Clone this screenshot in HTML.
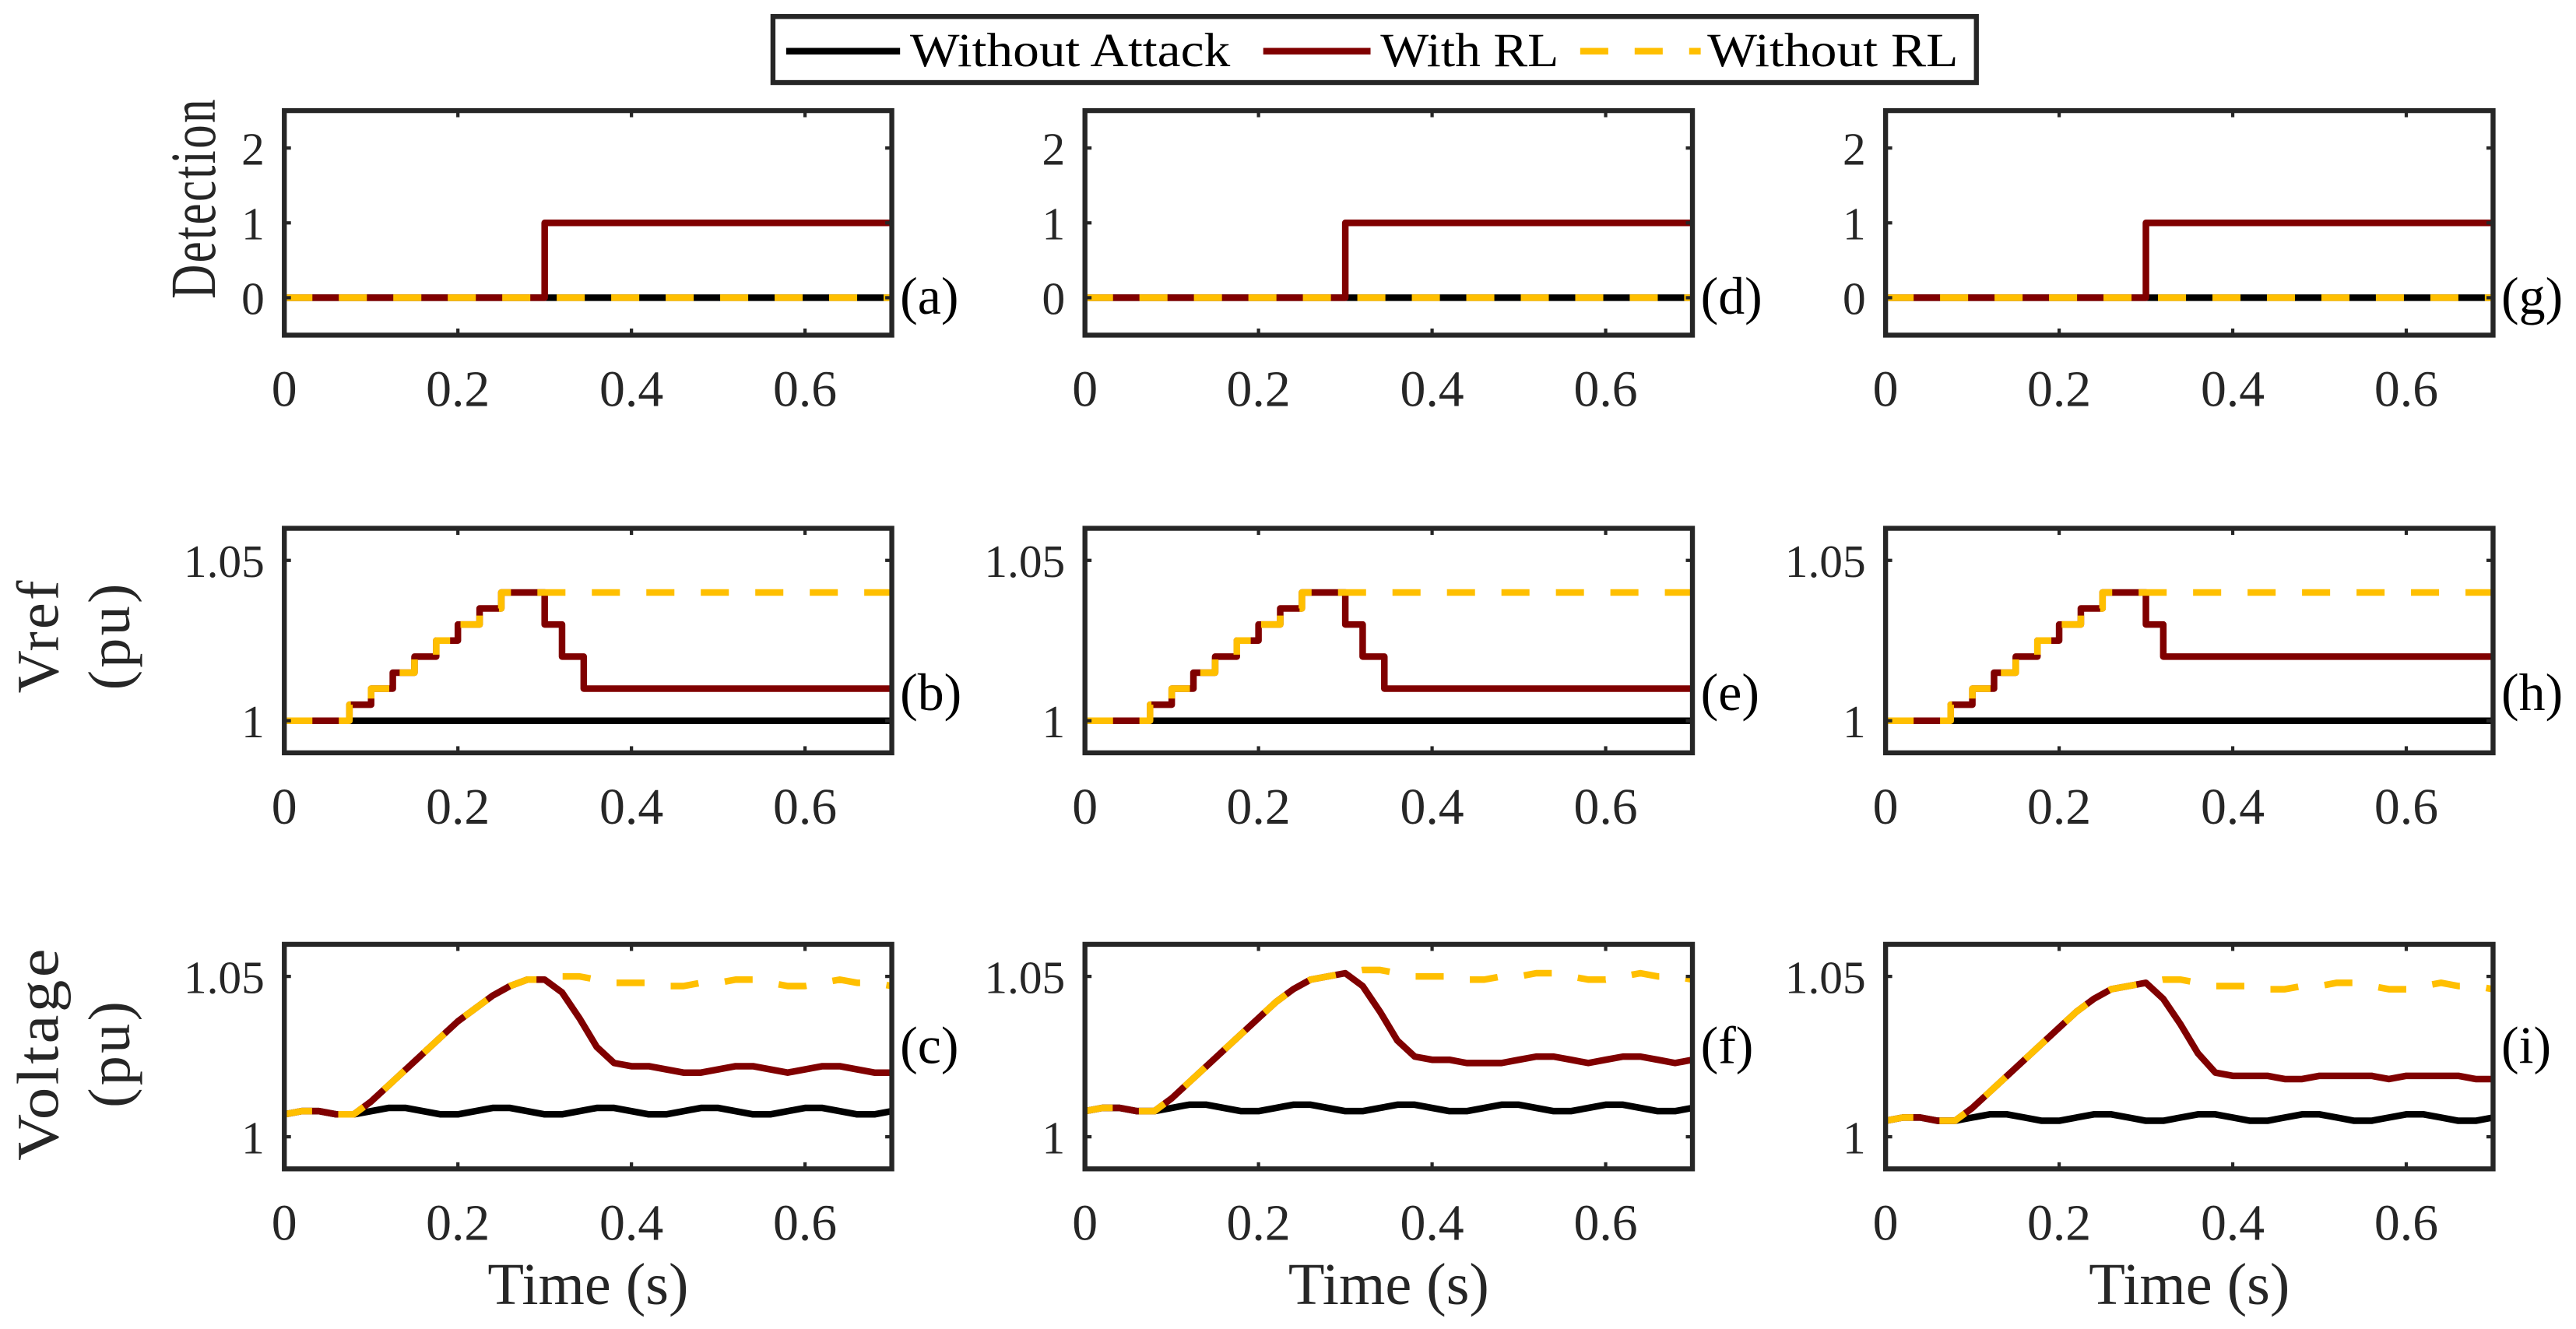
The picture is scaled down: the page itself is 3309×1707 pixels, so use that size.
<!DOCTYPE html>
<html><head><meta charset="utf-8"><style>
html,body{margin:0;padding:0;background:#fff;}
svg{display:block;font-family:"Liberation Serif",serif;}
</style></head><body>
<svg id="fig" width="3309" height="1707" viewBox="0 0 1560 805" xmlns="http://www.w3.org/2000/svg">
<g>
<rect x="468" y="10" width="729" height="40" fill="#fff" stroke="#262626" stroke-width="3"/>
<line x1="476" y1="31" x2="545" y2="31" stroke="#000" stroke-width="4"/>
<text x="551" y="40" font-size="29" textLength="194" lengthAdjust="spacingAndGlyphs">Without Attack</text>
<line x1="765" y1="31" x2="830" y2="31" stroke="#800000" stroke-width="4"/>
<text x="836" y="40" font-size="29" textLength="108" lengthAdjust="spacingAndGlyphs">With RL</text>
<line x1="957" y1="31" x2="1030" y2="31" stroke="#FFBF00" stroke-width="4" stroke-dasharray="17 16"/>
<text x="1034" y="40" font-size="29" textLength="152" lengthAdjust="spacingAndGlyphs">Without RL</text>
</g>
<g id="plots"></g>
</svg>
<script>
const tGrid=[0,0.02,0.04,0.06,0.08,0.1,0.12,0.14,0.16,0.18,0.2,0.22,0.24,0.26,0.28,0.3,0.32,0.34,0.36,0.38,0.4,0.42,0.44,0.46,0.48,0.5,0.52,0.54,0.56,0.58,0.6,0.62,0.64,0.66,0.68,0.7];
const xTicks=[0,0.2,0.4,0.6];
const xTickLabels=["0","0.2","0.4","0.6"];
const detTicks=[0,1,2];
const puTicks=[1,1.05];
const puTickLabels=["1","1.05"];
// detection
const detT=[0,0.3,0.3,0.7];
const detBlack=[0,0,0,0];
const detRed=[0,0,1,1];
const detYellow=[0,0,0,0];
// vref step times/values
const vrefUpT=[0,0.075,0.1,0.125,0.15,0.175,0.2,0.225,0.25];
const vrefUpV=[1.0,1.005,1.01,1.015,1.02,1.025,1.03,1.035,1.04];
const vrefRedDownT=[[0.3,0.32,0.345],[0.3,0.32,0.345],[0.3,0.32]];
const vrefRedDownV=[[1.03,1.02,1.01],[1.03,1.02,1.01],[1.03,1.02]];
// voltage
const vBlack=[
[1.007,1.008,1.008,1.007,1.007,1.008,1.009,1.009,1.008,1.007,1.007,1.008,1.009,1.009,1.008,1.007,1.007,1.008,1.009,1.009,1.008,1.007,1.007,1.008,1.009,1.009,1.008,1.007,1.007,1.008,1.009,1.009,1.008,1.007,1.007,1.008],
[1.008,1.009,1.009,1.008,1.008,1.009,1.010,1.010,1.009,1.008,1.008,1.009,1.010,1.010,1.009,1.008,1.008,1.009,1.010,1.010,1.009,1.008,1.008,1.009,1.010,1.010,1.009,1.008,1.008,1.009,1.010,1.010,1.009,1.008,1.008,1.009],
[1.005,1.006,1.006,1.005,1.005,1.006,1.007,1.007,1.006,1.005,1.005,1.006,1.007,1.007,1.006,1.005,1.005,1.006,1.007,1.007,1.006,1.005,1.005,1.006,1.007,1.007,1.006,1.005,1.005,1.006,1.007,1.007,1.006,1.005,1.005,1.006]];
const vRed=[
[1.007,1.008,1.008,1.007,1.007,1.011,1.016,1.021,1.026,1.031,1.036,1.040,1.044,1.047,1.049,1.049,1.045,1.037,1.028,1.023,1.022,1.022,1.021,1.020,1.020,1.021,1.022,1.022,1.021,1.020,1.021,1.022,1.022,1.021,1.020,1.020],
[1.008,1.009,1.009,1.008,1.008,1.012,1.017,1.022,1.027,1.032,1.037,1.042,1.046,1.049,1.050,1.051,1.047,1.039,1.030,1.025,1.024,1.024,1.023,1.023,1.023,1.024,1.025,1.025,1.024,1.023,1.024,1.025,1.025,1.024,1.023,1.024],
[1.005,1.006,1.006,1.005,1.005,1.009,1.014,1.019,1.024,1.029,1.034,1.039,1.043,1.046,1.047,1.048,1.043,1.035,1.026,1.020,1.019,1.019,1.019,1.018,1.018,1.019,1.019,1.019,1.019,1.018,1.019,1.019,1.019,1.019,1.018,1.018]];
const vYellow=[
[1.007,1.008,1.008,1.007,1.007,1.011,1.016,1.021,1.026,1.031,1.036,1.040,1.044,1.047,1.049,1.049,1.050,1.050,1.049,1.048,1.048,1.048,1.047,1.047,1.048,1.048,1.049,1.049,1.048,1.047,1.047,1.048,1.049,1.048,1.048,1.047],
[1.008,1.009,1.009,1.008,1.008,1.012,1.017,1.022,1.027,1.032,1.037,1.042,1.046,1.049,1.050,1.051,1.052,1.052,1.051,1.050,1.050,1.050,1.049,1.049,1.050,1.050,1.051,1.051,1.050,1.049,1.049,1.050,1.051,1.050,1.050,1.049],
[1.005,1.006,1.006,1.005,1.005,1.009,1.014,1.019,1.024,1.029,1.034,1.039,1.043,1.046,1.047,1.048,1.049,1.049,1.048,1.047,1.047,1.047,1.046,1.046,1.047,1.047,1.048,1.048,1.047,1.046,1.046,1.047,1.048,1.047,1.047,1.046]];
const panelLetters=[["(a)","(b)","(c)"],["(d)","(e)","(f)"],["(g)","(h)","(i)"]];

const NS="http://www.w3.org/2000/svg";
const root=document.getElementById('plots');
const colX=[172,657,1142], W=368;
const rowY=[67,320,572], H=136;
function mk(tag,attrs,parent){const e=document.createElementNS(NS,tag);for(const k in attrs)e.setAttribute(k,attrs[k]);parent.appendChild(e);return e;}
function stepPts(ts,vs,tEnd){const p=[];for(let i=0;i<ts.length;i++){if(i>0)p.push([ts[i],vs[i-1]]);p.push([ts[i],vs[i]]);}p.push([tEnd,vs[vs.length-1]]);return p;}
for(let c=0;c<3;c++){
 for(let r=0;r<3;r++){
  const x0=colX[c], y0=rowY[r];
  const ylim = r===0?[-0.5,2.5]:[0.99,1.06];
  const sx=t=>x0+t/0.7*W;
  const sy=v=>y0+H-(v-ylim[0])/(ylim[1]-ylim[0])*H;
  const g=mk('g',{},root);
  
  
  const series=[];
  if(r===0){
   series.push([detT.map((t,i)=>[t,detBlack[i]]),'#000','none','black-line']);
   series.push([detT.map((t,i)=>[t,detRed[i]]),'#800000','none','with-rl-line']);
   series.push([detT.map((t,i)=>[t,detYellow[i]]),'#FFBF00','17 16','without-rl-line']);
  } else if(r===1){
   series.push([[[0,1.0],[0.7,1.0]],'#000','none','black-line']);
   const rt=vrefUpT.concat(vrefRedDownT[c]), rv=vrefUpV.concat(vrefRedDownV[c]);
   series.push([stepPts(rt,rv,0.7),'#800000','none','with-rl-line']);
   series.push([stepPts(vrefUpT,vrefUpV,0.7),'#FFBF00','17 16','without-rl-line']);
  } else {
   series.push([tGrid.map((t,i)=>[t,vBlack[c][i]]),'#000','none','black-line']);
   series.push([tGrid.map((t,i)=>[t,vRed[c][i]]),'#800000','none','with-rl-line']);
   series.push([tGrid.map((t,i)=>[t,vYellow[c][i]]),'#FFBF00','17 16','without-rl-line']);
  }
  for(const s of series){
   const d=s[0].map((p,i)=>(i?'L':'M')+sx(p[0]).toFixed(2)+' '+sy(p[1]).toFixed(2)).join(' ');
   const pth=mk('path',{d:d,fill:'none',stroke:s[1],'stroke-width':4,'stroke-dasharray':s[2],'stroke-linejoin':'round'},g);
   
   
  }
  const box=mk('rect',{x:x0,y:y0,width:W,height:H,fill:'none',stroke:'#262626','stroke-width':3},g);
  
  
  xTicks.forEach((t,i)=>{
   mk('line',{x1:sx(t),y1:y0,x2:sx(t),y2:y0+4,stroke:'#262626','stroke-width':2},g);
   mk('line',{x1:sx(t),y1:y0+H,x2:sx(t),y2:y0+H-4,stroke:'#262626','stroke-width':2},g);
   const tx=mk('text',{x:sx(t),y:y0+H+43,'font-size':31,'text-anchor':'middle',fill:'#262626'},g);
   tx.textContent=xTickLabels[i];
   
   
  });
  const yt = r===0?detTicks:puTicks;
  yt.forEach((v,i)=>{
   mk('line',{x1:x0,y1:sy(v),x2:x0+4,y2:sy(v),stroke:'#262626','stroke-width':2},g);
   mk('line',{x1:x0+W,y1:sy(v),x2:x0+W-4,y2:sy(v),stroke:'#262626','stroke-width':2},g);
   const tx=mk('text',{x:x0-12,y:sy(v)+10,'font-size':28,'text-anchor':'end',fill:'#262626'},g);
   tx.textContent= r===0? String(v) : puTickLabels[i];
   
   
  });
  const lt=mk('text',{x:x0+W+5,y:(r===0?y0+123:(r===1?y0+110:y0+72)),'font-size':32,fill:'#000'},g);
  lt.textContent=panelLetters[c][r];
  
  
  if(r===2){
   const xl=mk('text',{x:x0+W/2,y:790,'font-size':36,'text-anchor':'middle',fill:'#262626'},g);
   xl.textContent='Time (s)';
   
   
  }
 }
}
function ylab(lines,xs,cy,len,fs){
 const g=mk('g',{},root);
 
 
 lines.forEach((s,i)=>{
  const t=mk('text',{x:xs[i],y:cy,'font-size':fs,'text-anchor':'middle',fill:'#262626','letter-spacing':1.5,transform:'rotate(-90 '+xs[i]+' '+cy+')'},g);
  if(len&&len[i]){t.setAttribute('textLength',len[i]);t.setAttribute('lengthAdjust','spacingAndGlyphs');}
  t.textContent=s;
 });
}
ylab(['Detection'],[130],120,[122],39);
ylab(['Vref','(pu)'],[35,78],385,null,36);
ylab(['Voltage','(pu)'],[35,78],638,[130,0],36);
</script>
</body></html>
